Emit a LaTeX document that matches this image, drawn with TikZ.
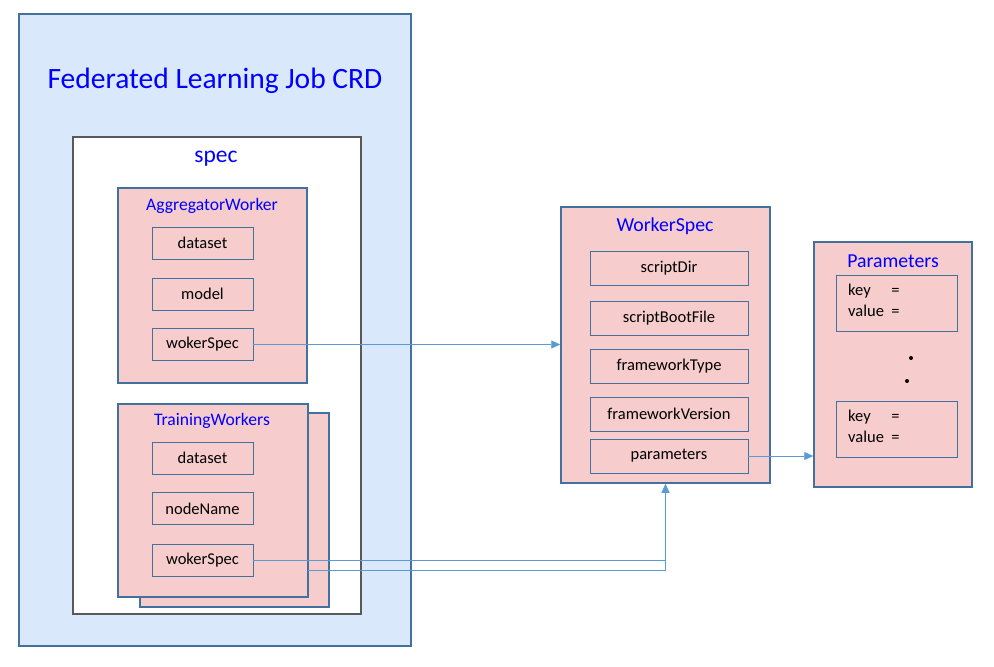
\documentclass[tikz,border=0pt]{standalone}
\usepackage{fontspec}
\setmainfont{Carlito}
\usepackage{tikz}
\usetikzlibrary{arrows.meta}
\definecolor{crdfill}{HTML}{DAE8FC}
\definecolor{crdline}{HTML}{41719C}
\definecolor{pinkfill}{HTML}{F6CDCC}
\definecolor{specline}{HTML}{595959}
\definecolor{titleblue}{HTML}{0000FF}
\definecolor{linkblue}{HTML}{5B9BD5}

\begin{document}
\begin{tikzpicture}[x=1pt,y=-1pt,line join=miter,
  outer/.style={draw=crdline,fill=crdfill,line width=1.5pt},
  specbox/.style={draw=specline,fill=white,line width=1.5pt},
  group/.style={draw=crdline,fill=pinkfill,line width=1.5pt},
  field/.style={draw=crdline,fill=pinkfill,line width=0.8pt,minimum width=101pt,minimum height=32pt,inner sep=0pt,font=\fontsize{16.5}{19}\selectfont},
  wfield/.style={field,minimum width=158pt,minimum height=34pt},
  kvbox/.style={draw=crdline,fill=pinkfill,line width=0.8pt,minimum width=121pt,minimum height=56pt,inner sep=0pt},
  heading/.style={text=titleblue,inner sep=0pt},
  conn/.style={draw=linkblue,line width=0.8pt},
  >={Triangle[length=9pt,width=8pt]}]
\useasboundingbox (0,0) rectangle (994,667);
% CRD container
\draw[outer] (19,14) rectangle (411,646);
\node[heading,font=\fontsize{29.5}{34}\selectfont] (crdtitle) at (215,81) {Federated Learning Job CRD};
\draw[specbox] (73,137) rectangle (361,614);
\node[heading,font=\fontsize{23.5}{27}\selectfont] (spectitle) at (216,159) {spec};
% aggregator
\draw[group] (118,188) rectangle (307,383);
\node[heading,font=\fontsize{17.6}{20}\selectfont] (aggtitle) at (212,206) {AggregatorWorker};
\node[field] (aggdata) at (202.5,243) {dataset};
\node[field] (aggmodel) at (202.5,294) {model};
\node[field] (aggspec) at (202.5,344.5) {wokerSpec};
% training workers
\draw[group] (140,413) rectangle (329,607);
\draw[group] (118,404) rectangle (308,597);
\node[heading,font=\fontsize{17.6}{20}\selectfont] (traintitle) at (212,421) {TrainingWorkers};
\node[field] (traindata) at (202.5,458) {dataset};
\node[field] (trainnode) at (202.5,508.5) {nodeName};
\node[field] (trainspec) at (202.5,560.5) {wokerSpec};
% WorkerSpec
\node[group,minimum width=209pt,minimum height=276pt,inner sep=0pt] (wspec) at (665.5,345) {};
\node[heading,font=\fontsize{19.8}{23}\selectfont] (wspectitle) at (665,226) {WorkerSpec};
\node[wfield] (sdir) at (669,268) {scriptDir};
\node[wfield] (sboot) at (669,318) {scriptBootFile};
\node[wfield] (ftype) at (669,366) {frameworkType};
\node[wfield] (fver) at (669,414) {frameworkVersion};
\node[wfield] (params) at (669,456) {parameters};
% Parameters
\node[group,minimum width=158pt,minimum height=245pt,inner sep=0pt] (paramsbox) at (893,364.5) {};
\node[heading,font=\fontsize{19.8}{23}\selectfont] (paramstitle) at (893,261) {Parameters};
\node[kvbox] (kvone) at (896.5,303) {};
\node[anchor=west,inner sep=0pt,font=\fontsize{16.5}{21}\selectfont] (kvonetext) at (848,302)
  {\begin{tabular}{@{}l@{\ \ }l@{}}key & =\\value & =\end{tabular}};
\node[kvbox] (kvtwo) at (896.5,429) {};
\node[anchor=west,inner sep=0pt,font=\fontsize{16.5}{21}\selectfont] (kvtwotext) at (848,428)
  {\begin{tabular}{@{}l@{\ \ }l@{}}key & =\\value & =\end{tabular}};
\fill (911,358) circle (2pt);
\fill (907,381) circle (2pt);
% connectors
\draw[conn,->] (aggspec.east) -- (wspec.west |- aggspec.east);
\coordinate (tbend) at (665,560);
\coordinate (tlow) at (308,570);
\draw[conn] (tlow) -| (tbend);
\draw[conn,->] (trainspec.east) -| (wspec.south);
\draw[conn,->] (params.east) -- (paramsbox.west |- params.east);
\end{tikzpicture}
\end{document}
